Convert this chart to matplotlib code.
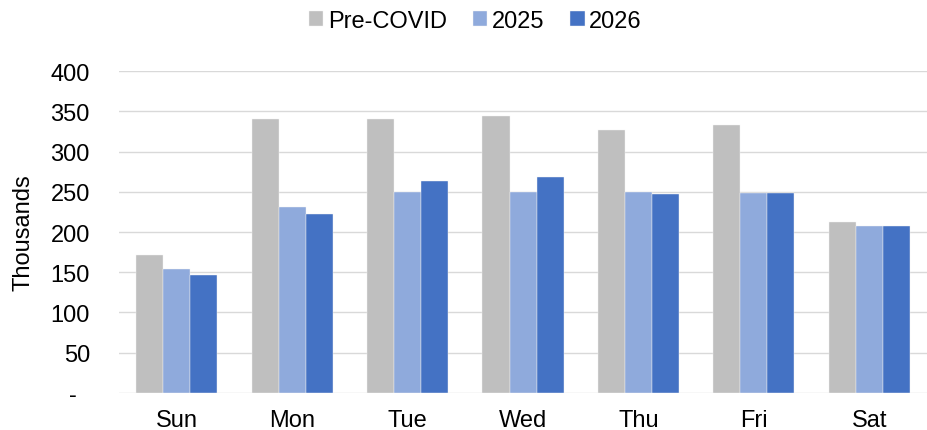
import numpy as np
import matplotlib.pyplot as plt

plt.rcParams['font.family'] = ['Liberation Sans', 'DejaVu Sans']

days = ['Sun', 'Mon', 'Tue', 'Wed', 'Thu', 'Fri', 'Sat']
pre_covid = [171, 341, 341, 344, 327, 333, 213]
y2025 = [154, 231, 250, 250, 250, 249, 208]
y2026 = [147, 222, 264, 268, 247, 249, 208]
series = ['Pre-COVID', '2025', '2026']
colors = ['#BFBFBF', '#8FAADC', '#4472C4']
yticks = [0, 50, 100, 150, 200, 250, 300, 350, 400]
ytick_labels = ['-  '] + [str(t) for t in yticks[1:]]

fig = plt.figure(figsize=(9.27, 4.31), dpi=100)
ax = fig.add_axes([0.1284, 0.0865, 0.8716, 0.7457])

x = np.arange(len(days))
w = 0.234
for i, (vals, name, c) in enumerate(zip([pre_covid, y2025, y2026], series, colors)):
    ax.bar(x + (i - 1) * w, vals, width=w, color=c, label=name,
           edgecolor='#F2F2F2', linewidth=0.3, zorder=3)

ax.set_xlim(-0.5, 6.5)
ax.set_ylim(0, 400)
ax.set_yticks(yticks)
ax.set_yticklabels(ytick_labels)
ax.set_xticks(x)
ax.set_xticklabels(days)
ax.tick_params(axis='both', length=0, labelsize=17, colors='black')
ax.tick_params(axis='y', pad=21)
ax.tick_params(axis='x', pad=11.5)
ax.grid(axis='y', color='#D9D9D9', linewidth=1.0, zorder=0)
for s in ['top', 'right', 'left', 'bottom']:
    ax.spines[s].set_visible(False)
ax.set_ylabel('Thousands', fontsize=17)
ax.yaxis.set_label_coords(-0.105, 0.5)

fig.legend(loc='center', bbox_to_anchor=(0.513, 0.95), ncol=3, frameon=False,
           fontsize=17, handlelength=0.6, handleheight=0.6, handletextpad=0.2,
           columnspacing=1.1)

fig.savefig('out.png', dpi=100)
